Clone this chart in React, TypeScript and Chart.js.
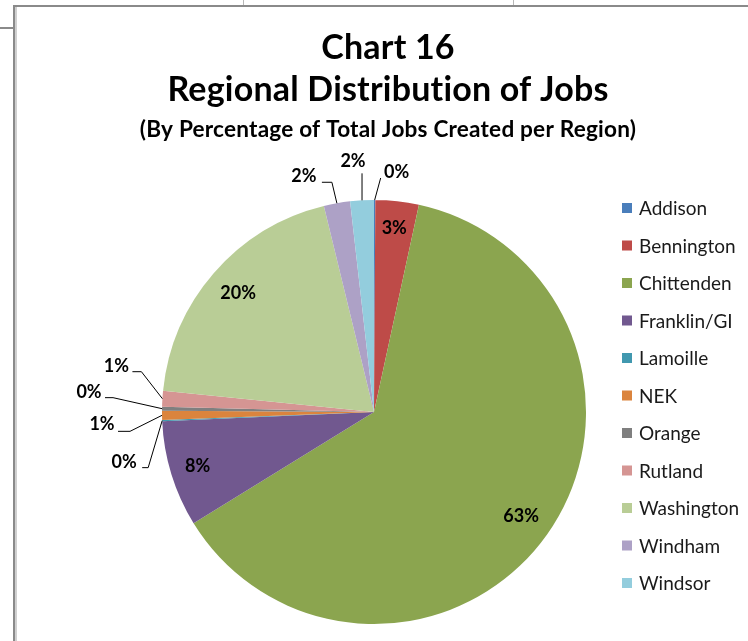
import React, { useEffect, useRef } from "react";
import { Chart, registerables } from "chart.js";

Chart.register(...registerables);

// ---- data ----
const regions = [
  "Addison",
  "Bennington",
  "Chittenden",
  "Franklin/GI",
  "Lamoille",
  "NEK",
  "Orange",
  "Rutland",
  "Washington",
  "Windham",
  "Windsor",
];
const shares = [0.1, 3.3, 62.8, 8.1, 0.1, 0.7, 0.3, 1.2, 19.6, 2.0, 1.8];
const sliceColors = [
  "#4A7EBB",
  "#BE4B48",
  "#8BA54F",
  "#71588F",
  "#4198AF",
  "#DB843D",
  "#7F7F7F",
  "#D59593",
  "#B9CD96",
  "#ADA1C6",
  "#93CDDD",
];
const titleLines = ["Chart 16", "Regional Distribution of Jobs"];
const subtitleText = "(By Percentage of Total Jobs Created per Region)";

// ---- label styling (placement relative to slice edge) ----
type LabelStyle =
  | { kind: "inside"; r: number }
  | { kind: "outside"; ex: number; ey: number; hook: number; tx: number; ty: number };
const labelStyles: LabelStyle[] = [
  { kind: "outside", ex: 6, ey: -22, hook: 0, tx: 16, ty: -6 },
  { kind: "inside", r: 0.87 },
  { kind: "inside", r: 0.85 },
  { kind: "inside", r: 0.87 },
  { kind: "outside", ex: -14, ey: 47, hook: -6, tx: -18, ty: -5 },
  { kind: "outside", ex: -32, ey: 16, hook: -12, tx: -16, ty: -7 },
  { kind: "outside", ex: -49, ey: -11, hook: -8, tx: -16, ty: -5 },
  { kind: "outside", ex: -21, ey: -27, hook: -9, tx: -16, ty: -6 },
  { kind: "inside", r: 0.85 },
  { kind: "outside", ex: -5, ey: -21, hook: -10, tx: -18, ty: -6 },
  { kind: "outside", ex: 0, ey: -27, hook: 0, tx: -9, ty: -12 },
];

const FONT = "Lato, 'Open Sans', sans-serif";

const noLigatures = (ctx: any) => {
  ctx.letterSpacing = "0.2px";
};

const pieLabels = {
  id: "pieLabels",
  afterDatasetsDraw(chart: any) {
    const ctx = chart.ctx as CanvasRenderingContext2D;
    const meta = chart.getDatasetMeta(0);
    ctx.save();
    ctx.font = `bold 18px ${FONT}`;
    ctx.textAlign = "center";
    ctx.textBaseline = "middle";
    ctx.fillStyle = "#000";
    ctx.strokeStyle = "#000";
    ctx.lineWidth = 1;
    meta.data.forEach((arc: any, i: number) => {
      const p = arc.getProps(["x", "y", "startAngle", "endAngle", "outerRadius"], true);
      const mid = (p.startAngle + p.endAngle) / 2;
      const text = Math.round(shares[i]) + "%";
      const st = labelStyles[i];
      if (st.kind === "inside") {
        const r = p.outerRadius * st.r;
        ctx.fillText(text, p.x + Math.cos(mid) * r, p.y + Math.sin(mid) * r);
      } else {
        const ex0 = p.x + Math.cos(mid) * p.outerRadius;
        const ey0 = p.y + Math.sin(mid) * p.outerRadius;
        const bx = ex0 + st.ex;
        const by = ey0 + st.ey;
        const hx = bx + st.hook;
        ctx.beginPath();
        ctx.moveTo(ex0, ey0);
        ctx.lineTo(bx, by);
        ctx.lineTo(hx, by);
        ctx.stroke();
        ctx.fillText(text, hx + st.tx, by + st.ty);
      }
    });
    ctx.restore();
  },
};

const titleBlock = {
  id: "titleBlock",
  afterDraw(chart: any) {
    const ctx = chart.ctx as CanvasRenderingContext2D;
    ctx.save();
    noLigatures(ctx);
    ctx.fillStyle = "#000";
    ctx.textAlign = "center";
    ctx.textBaseline = "alphabetic";
    const cx = 388;
    ctx.font = `bold 34px ${FONT}`;
    ctx.fillText(titleLines[0], cx, 59);
    ctx.fillText(titleLines[1], cx, 101);
    ctx.font = `bold 22.6px ${FONT}`;
    ctx.fillText(subtitleText, cx, 137);
    ctx.restore();
  },
};

const sideLegend = {
  id: "sideLegend",
  afterDraw(chart: any) {
    const ctx = chart.ctx as CanvasRenderingContext2D;
    const colors = chart.data.datasets[0].backgroundColor as string[];
    ctx.save();
    ctx.font = `19px ${FONT}`;
    ctx.textAlign = "left";
    ctx.textBaseline = "middle";
    (chart.data.labels as string[]).forEach((name, i) => {
      const y = 208 + i * 37.5;
      ctx.fillStyle = colors[i];
      ctx.fillRect(622, y - 5, 10, 10);
      ctx.fillStyle = "#1a1a1a";
      ctx.fillText(name, 639, y + 1);
    });
    ctx.restore();
  },
};

export default function App() {
  const ref = useRef<HTMLCanvasElement | null>(null);
  useEffect(() => {
    if (!ref.current) return;
    const chart = new Chart(ref.current, {
      type: "pie",
      data: {
        labels: regions,
        datasets: [
          {
            data: shares,
            backgroundColor: sliceColors,
            borderWidth: 0,
          },
        ],
      },
      options: {
        animation: false,
        responsive: false,
        layout: { padding: { top: 200, bottom: 17, left: 144, right: 144 } },
        plugins: {
          legend: { display: false },
          title: { display: false },
          tooltip: { enabled: false },
        },
      },
      plugins: [pieLabels, titleBlock, sideLegend],
    });
    return () => chart.destroy();
  }, []);

  const line = (s: React.CSSProperties) => (
    <div style={{ position: "absolute", ...s }} />
  );

  return (
    <div
      style={{
        position: "absolute",
        left: 0,
        top: 0,
        width: 748,
        height: 641,
        overflow: "hidden",
        background: "#fff",
      }}
    >
      <canvas ref={ref} width={748} height={641} style={{ position: "absolute", left: 0, top: 0 }} />
      {line({ left: 13, top: 5, width: 735, height: 2, background: "#8a8a8a" })}
      {line({ left: 13, top: 5, width: 2, height: 636, background: "#8a8a8a" })}
      {line({ left: 15, top: 7, width: 2, height: 634, background: "#d0d0d0" })}
      {line({ left: 243, top: 0, width: 1, height: 5, background: "#b8b8b8" })}
      {line({ left: 513, top: 0, width: 1, height: 5, background: "#b8b8b8" })}
      {line({ left: 0, top: 27, width: 13, height: 2, background: "#8a8a8a" })}
    </div>
  );
}
